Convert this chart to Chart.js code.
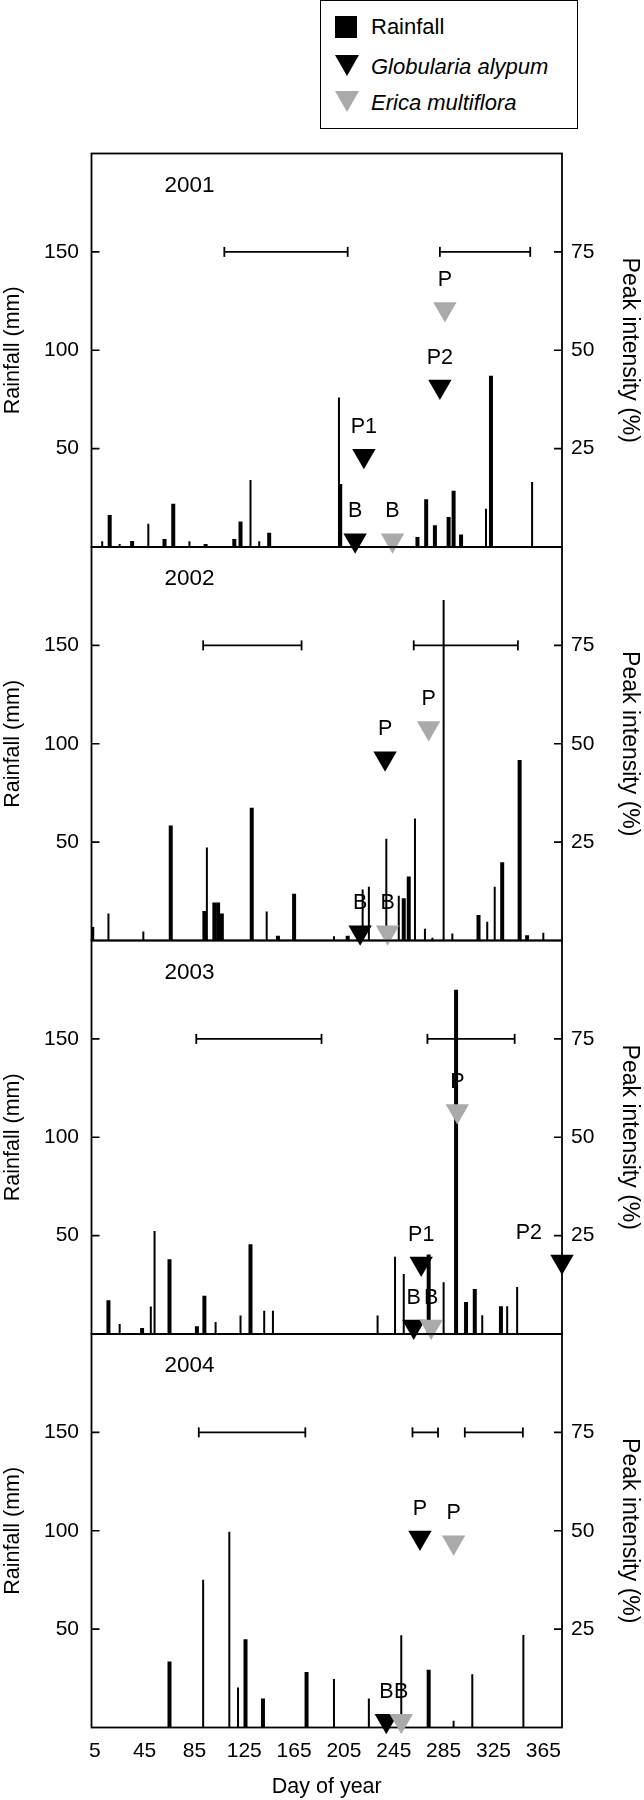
<!DOCTYPE html>
<html>
<head>
<meta charset="utf-8">
<script src="https://cdn.jsdelivr.net/npm/chart.js@4.4.1/dist/chart.umd.min.js"></script>
<style>
  html, body { margin: 0; padding: 0; background: #fff; }
  #wrap { position: relative; width: 644px; height: 1800px; overflow: hidden;
          font-family: "Liberation Sans", Arial, Helvetica, sans-serif; color: #000; }
  canvas { position: absolute; left: 0; }
  #legendBox { position: absolute; left: 320px; top: 0px; width: 258px; height: 129px;
               box-sizing: border-box; border: 1.6px solid #000; background: #fff; }
  .lgTxt { position: absolute; left: 371px; font-size: 22px; line-height: 26px; white-space: nowrap; }
  .lgSq { position: absolute; left: 335px; top: 16px; width: 22px; height: 22px; background: #000; }
  .lgTri { position: absolute; left: 335px; width: 0; height: 0;
           border-left: 12px solid transparent; border-right: 12px solid transparent; }
</style>
</head>
<body>
<div id="wrap">
  <div id="legendBox"></div>
  <div class="lgSq"></div>
  <div class="lgTxt" style="top:14px;">Rainfall</div>
  <div class="lgTri" style="top:55px; border-top:21px solid #000;"></div>
  <div class="lgTxt" style="top:54px; font-style:italic;">Globularia alypum</div>
  <div class="lgTri" style="top:91px; border-top:21px solid #aaaaaa;"></div>
  <div class="lgTxt" style="top:90px; font-style:italic;">Erica multiflora</div>
</div>
<script>
// ---------------- data ----------------
const xTicks = [5, 45, 85, 125, 165, 205, 245, 285, 325, 365];
const rainTicks = [50, 100, 150];
const peakTicks = [25, 50, 75];
const years = ['2001', '2002', '2003', '2004'];
const periodLevel = 150;

// 2001
const thinDays2001 = [11, 25, 48, 81, 130, 137, 201, 319, 356];
const thinRain2001 = [2.9, 1.5, 11.8, 2.9, 34, 2.9, 76, 19.5, 33];
const wideDays2001 = [17, 35, 61, 68, 94, 117, 122, 145, 202, 264, 271, 278, 289, 293, 299, 323];
const wideRain2001 = [16.3, 3.1, 4.1, 22, 1.5, 4.1, 13, 7.2, 32, 5.1, 24.3, 11, 15.2, 28.6, 6.3, 87];
const periods2001 = [[109, 208], [282, 354.5]];
const gloDays2001 = [214, 221, 282];
const gloPeak2001 = [1.7, 23.2, 40.8];
const gloLab2001 = ['B', 'P1', 'P2'];
const eriDays2001 = [244, 286];
const eriPeak2001 = [1.7, 60.5];
const eriLab2001 = ['B', 'P'];

// 2002
const thinDays2002 = [16, 44, 95, 143, 197, 220, 225, 239, 249, 262, 270, 276, 285, 292, 320, 326, 365];
const thinRain2002 = [13.7, 4.6, 47.3, 14.8, 2.2, 25.9, 27.3, 51.7, 22.7, 62, 6, 1.4, 173, 3.5, 9.5, 27.3, 3.9];
const wideDays2002 = [3, 66, 93, 101, 104, 107, 131, 152, 165, 208, 253, 257, 313, 332, 346, 352];
const wideRain2002 = [6.8, 58.4, 15, 19.3, 19.3, 13.7, 67.5, 2.4, 23.7, 2.4, 21.5, 32.5, 12.9, 39.8, 91.7, 2.7];
const periods2002 = [[92, 171], [261, 344.6]];
const gloDays2002 = [218, 238];
const gloPeak2002 = [2.1, 46.3];
const gloLab2002 = ['B', 'P'];
const eriDays2002 = [240, 273];
const eriPeak2002 = [2.1, 54];
const eriLab2002 = ['B', 'P'];

// 2003
const thinDays2003 = [25, 50, 53, 102, 122, 141, 148, 232, 246, 253, 285, 316, 336, 344];
const thinRain2003 = [5.1, 14, 52.4, 6.1, 9.4, 11.8, 11.8, 9.4, 39.2, 30.5, 26.3, 9.5, 14.1, 23.9];
const wideDays2003 = [16, 43, 65, 87, 93, 130, 273, 295, 303, 310, 331];
const wideRain2003 = [17.2, 3, 38, 3.9, 19.4, 45.6, 40.4, 175, 16.3, 22.9, 14.1];
const periods2003 = [[86.5, 187], [272, 342]];
const gloDays2003 = [261, 267, 380];
const gloPeak2003 = [1.9, 17.9, 18.4];
const gloLab2003 = ['B', 'P1', 'P2'];
const eriDays2003 = [275, 296];
const eriPeak2003 = [1.9, 56.7];
const eriLab2003 = ['B', 'P'];

// 2004
const thinDays2004 = [92, 113, 120, 197, 225, 251, 293, 308, 349];
const thinRain2004 = [75.1, 99.5, 20.3, 24.7, 14.7, 46.9, 3.4, 27.1, 47];
const wideDays2004 = [65, 126, 140, 175, 273];
const wideRain2004 = [33.6, 44.9, 14.7, 28.2, 29.4];
const periods2004 = [[88.5, 174], [260, 280.5], [302, 348.6]];
const gloDays2004 = [239, 266];
const gloPeak2004 = [1.7, 48.3];
const gloLab2004 = ['B', 'P'];
const eriDays2004 = [251, 293];
const eriPeak2004 = [1.7, 47.1];
const eriLab2004 = ['B', 'P'];

// ---------------- layout / style ----------------
const FONT = '"Liberation Sans", Arial, Helvetica, sans-serif';
const PANEL_H = 393.5, TOP0 = 153.5, LEFT_W = 91.5, RIGHT_W = 82, PAD = 40;
const TRI_R = 13.5;
const GRAY = '#aaaaaa';

const zip = (xs, ys) => xs.map((x, i) => ({ x: x, y: ys[i] }));

const panels = [
  { thinD: thinDays2001, thinR: thinRain2001, wideD: wideDays2001, wideR: wideRain2001, per: periods2001,
    gD: gloDays2001, gP: gloPeak2001, gL: gloLab2001, eD: eriDays2001, eP: eriPeak2001, eL: eriLab2001 },
  { thinD: thinDays2002, thinR: thinRain2002, wideD: wideDays2002, wideR: wideRain2002, per: periods2002,
    gD: gloDays2002, gP: gloPeak2002, gL: gloLab2002, eD: eriDays2002, eP: eriPeak2002, eL: eriLab2002 },
  { thinD: thinDays2003, thinR: thinRain2003, wideD: wideDays2003, wideR: wideRain2003, per: periods2003,
    gD: gloDays2003, gP: gloPeak2003, gL: gloLab2003, eD: eriDays2003, eP: eriPeak2003, eL: eriLab2003 },
  { thinD: thinDays2004, thinR: thinRain2004, wideD: wideDays2004, wideR: wideRain2004, per: periods2004,
    gD: gloDays2004, gP: gloPeak2004, gL: gloLab2004, eD: eriDays2004, eP: eriPeak2004, eL: eriLab2004 }
];

const decor = {
  id: 'decor',
  beforeDatasetsDraw(chart) {
    const { ctx, chartArea: ca, scales } = chart;
    ctx.save();
    ctx.strokeStyle = '#000';
    ctx.lineWidth = 1.8;
    ctx.strokeRect(ca.left, ca.top, ca.right - ca.left, ca.bottom - ca.top);
    ctx.lineWidth = 1.6;
    ctx.beginPath();
    scales.y.ticks.forEach(t => {
      const y = scales.y.getPixelForValue(t.value);
      ctx.moveTo(ca.left, y); ctx.lineTo(ca.left + 8, y);
    });
    scales.y2.ticks.forEach(t => {
      const y = scales.y2.getPixelForValue(t.value);
      ctx.moveTo(ca.right - 8, y); ctx.lineTo(ca.right, y);
    });
    ctx.stroke();
    ctx.restore();
  },
  afterDatasetsDraw(chart, args, opts) {
    const { ctx, chartArea: ca } = chart;
    ctx.save();
    ctx.fillStyle = '#000';
    ctx.textBaseline = 'middle';
    ctx.textAlign = 'left';
    ctx.font = '22.5px ' + FONT;
    ctx.fillText(opts.year, ca.left + 73, ca.top + 32);
    ctx.font = '21.5px ' + FONT;
    chart.data.datasets.forEach((ds, i) => {
      if (!ds.pointLabels) return;
      const meta = chart.getDatasetMeta(i);
      meta.data.forEach((el, j) => {
        const txt = ds.pointLabels[j];
        const w = ctx.measureText(txt).width;
        let x = el.x, align = 'center';
        if (x + w / 2 > ca.right - 4) { x = ca.right - 20; align = 'right'; }
        ctx.textAlign = align;
        ctx.fillText(txt, x, el.y - TRI_R / 2 - 22);
      });
    });
    ctx.restore();
  }
};

function makePanel(k) {
  const p = panels[k];
  const last = k === panels.length - 1;
  const panelTop = TOP0 + k * PANEL_H;
  const canvasTop = Math.round(panelTop) - PAD;
  const padTop = panelTop - canvasTop;
  const canvasH = last ? 1800 - canvasTop : Math.round(PANEL_H + padTop + PAD);
  const xH = canvasH - padTop - PANEL_H;

  const cv = document.createElement('canvas');
  cv.width = 644; cv.height = canvasH;
  cv.style.width = '644px'; cv.style.height = canvasH + 'px';
  cv.style.top = canvasTop + 'px';
  document.getElementById('wrap').appendChild(cv);

  const barCommon = { type: 'bar', backgroundColor: '#000', borderWidth: 0, grouped: false,
                      barPercentage: 1000, categoryPercentage: 1, order: 3, yAxisID: 'y', xAxisID: 'x' };
  const datasets = [
    Object.assign({}, barCommon, { data: zip(p.thinD, p.thinR), maxBarThickness: 2 }),
    Object.assign({}, barCommon, { data: zip(p.wideD, p.wideR), maxBarThickness: 4 })
  ];
  p.per.forEach(seg => {
    datasets.push({ type: 'line', data: [{ x: seg[0], y: periodLevel }, { x: seg[1], y: periodLevel }],
      borderColor: '#000', borderWidth: 1.8, pointStyle: 'line', rotation: 90, pointRadius: 5,
      pointBorderWidth: 1.8, pointBorderColor: '#000', pointBackgroundColor: '#000',
      yAxisID: 'y', xAxisID: 'x', order: 2, clip: false, fill: false });
  });
  datasets.push({ type: 'scatter', data: zip(p.gD, p.gP), pointStyle: 'triangle', rotation: 180,
    pointRadius: TRI_R, backgroundColor: '#000', borderColor: '#000', borderWidth: 0,
    yAxisID: 'y2', xAxisID: 'x', order: 1, clip: false, pointLabels: p.gL });
  datasets.push({ type: 'scatter', data: zip(p.eD, p.eP), pointStyle: 'triangle', rotation: 180,
    pointRadius: TRI_R, backgroundColor: GRAY, borderColor: GRAY, borderWidth: 0,
    yAxisID: 'y2', xAxisID: 'x', order: 0, clip: false, pointLabels: p.eL });

  const font = { family: FONT, size: 21 };
  new Chart(cv, {
    type: 'bar',
    data: { datasets },
    plugins: [decor],
    options: {
      responsive: false, animation: false, devicePixelRatio: 1,
      layout: { padding: { top: padTop, bottom: 0, left: 0, right: 0 } },
      plugins: { legend: { display: false }, tooltip: { enabled: false }, decor: { year: years[k] } },
      scales: {
        x: {
          type: 'linear', min: 2.4, max: 380, offset: false,
          afterBuildTicks: sc => { sc.ticks = xTicks.map(v => ({ value: v })); },
          ticks: { display: last, font, color: '#000', padding: 11.5, autoSkip: false, maxRotation: 0, minRotation: 0 },
          grid: { display: false, drawTicks: false }, border: { display: false },
          title: { display: last, text: 'Day of year', font: { family: FONT, size: 21.5 }, color: '#000', padding: 0 },
          afterFit: sc => { sc.height = xH; }
        },
        y: {
          type: 'linear', position: 'left', min: 0, max: 200,
          afterBuildTicks: sc => { sc.ticks = rainTicks.map(v => ({ value: v })); },
          ticks: { font, color: '#000', padding: 12.5 },
          grid: { display: false, drawTicks: false }, border: { display: false },
          title: { display: true, text: 'Rainfall (mm)', font: { family: FONT, size: 21.5 }, color: '#000', padding: { top: 0, bottom: 0 } },
          afterFit: sc => { sc.width = LEFT_W; }
        },
        y2: {
          type: 'linear', position: 'right', min: 0, max: 100,
          afterBuildTicks: sc => { sc.ticks = peakTicks.map(v => ({ value: v })); },
          ticks: { font, color: '#000', padding: 9 },
          grid: { display: false, drawTicks: false }, border: { display: false },
          title: { display: true, text: 'Peak intensity (%)', font: { family: FONT, size: 23 }, color: '#000', padding: { top: 1, bottom: 0 } },
          afterFit: sc => { sc.width = RIGHT_W; }
        }
      }
    }
  });
}

panels.forEach((_, k) => makePanel(k));
</script>
</body>
</html>
